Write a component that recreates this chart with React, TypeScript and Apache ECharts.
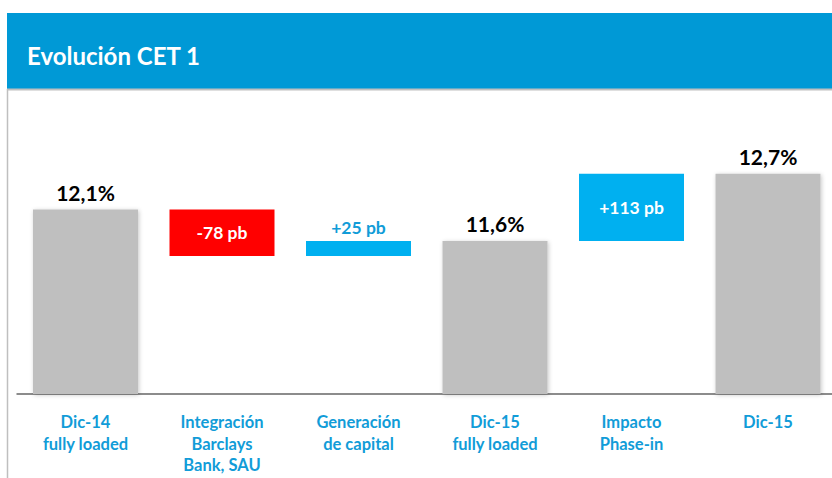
import React, { useEffect, useRef } from "react";
import * as echarts from "echarts";

const title = "Evolución CET 1";
const categories = [
  "Dic-14\nfully loaded",
  "Integración\nBarclays\nBank, SAU",
  "Generación\nde capital",
  "Dic-15\nfully loaded",
  "Impacto\nPhase-in",
  "Dic-15",
];
const kinds = ["total", "delta", "delta", "total", "delta", "total"];
const startValue = 12.1; // CET1 %, Dic-14 fully loaded
const deltasBp = [-78, 25, 113]; // basis points
const axisMin = 9;
const axisMax = 14;

const GRAY = "#BFBFBF";
const RED = "#FF0000";
const BLUE = "#00B0F0";
const HEADER = "#0099D6";
const LABEL_BLUE = "#119CD8";
const FONT = "Lato, 'Open Sans', sans-serif";

function build() {
  const base: number[] = [];
  const vis: any[] = [];
  let running = startValue;
  let di = 0;
  kinds.forEach((k) => {
    if (k === "total") {
      const r = running;
      base.push(0);
      vis.push({
        value: r,
        itemStyle: {
          color: GRAY,
          shadowBlur: 4,
          shadowColor: "rgba(0,0,0,0.22)",
          shadowOffsetX: 1,
          shadowOffsetY: 1,
        },
        label: {
          show: true,
          position: "top",
          distance: 7,
          color: "#000",
          fontSize: 21,
          fontWeight: "bold",
          fontFamily: FONT,
          formatter: () => r.toFixed(1).replace(".", ",") + "%",
        },
      });
    } else {
      const bp = deltasBp[di++];
      const d = bp / 100;
      const lo = Math.min(running, running + d);
      base.push(lo);
      const small = Math.abs(bp) < 50;
      const txt = (bp > 0 ? "+" : "") + bp + " pb";
      vis.push({
        value: Math.abs(d),
        itemStyle: { color: bp < 0 ? RED : BLUE },
        label: {
          show: true,
          position: small ? "top" : "inside",
          distance: 5,
          color: small ? LABEL_BLUE : "#fff",
          fontSize: 17.5,
          fontWeight: "bold",
          fontFamily: FONT,
          formatter: () => txt,
        },
      });
      running += d;
    }
  });
  return { base, vis };
}

export default function App() {
  const ref = useRef<HTMLDivElement>(null);
  useEffect(() => {
    if (!ref.current) return;
    const chart = echarts.init(ref.current, null, { renderer: "svg" });
    const { base, vis } = build();
    chart.setOption({
      animation: false,
      backgroundColor: "#fff",
      graphic: [
        { type: "rect", shape: { x: 7, y: 13, width: 830, height: 76 }, style: { fill: HEADER } },
        { type: "line", shape: { x1: 7, y1: 89.5, x2: 832, y2: 89.5 }, style: { stroke: GRAY, lineWidth: 2 } },
        { type: "line", shape: { x1: 7.5, y1: 89, x2: 7.5, y2: 478 }, style: { stroke: GRAY, lineWidth: 1.5 } },
        {
          type: "text",
          x: 27,
          y: 55,
          style: {
            text: title,
            fill: "#fff",
            fontSize: 24,
            fontWeight: "bold",
            fontFamily: FONT,
            verticalAlign: "middle",
          },
        },
      ],
      grid: {
        left: 17.25,
        top: 96.5,
        width: 819,
        height: 297.5,
        containLabel: false,
        outerBoundsMode: "none",
      },
      xAxis: {
        type: "category",
        data: categories,
        axisTick: { show: false },
        axisLine: { lineStyle: { color: "#8C8C8C", width: 2 } },
        axisLabel: {
          color: LABEL_BLUE,
          fontSize: 16.5,
          fontWeight: "bold",
          fontFamily: FONT,
          lineHeight: 21.7,
          margin: 17,
          interval: 0,
        },
      },
      yAxis: {
        type: "value",
        min: axisMin,
        max: axisMax,
        show: false,
        splitLine: { show: false },
      },
      series: [
        {
          type: "bar",
          stack: "wf",
          data: base,
          barWidth: 105,
          itemStyle: { color: "transparent" },
          silent: true,
          clip: true,
        },
        {
          type: "bar",
          stack: "wf",
          data: vis,
          barWidth: 105,
          clip: true,
        },
      ],
    });
    return () => chart.dispose();
  }, []);
  return (
    <div
      ref={ref}
      style={{ position: "fixed", left: 0, top: 0, width: 832, height: 478 }}
    />
  );
}
